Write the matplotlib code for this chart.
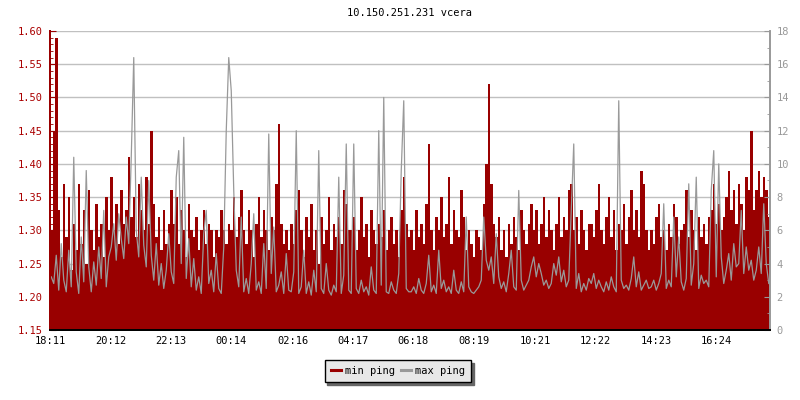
import numpy as np
import matplotlib
matplotlib.use('Agg')
import matplotlib.pyplot as plt
from matplotlib.ticker import MultipleLocator

plt.rcParams['font.family'] = ['DejaVu Sans Mono']

title = '10.150.251.231 vcera'
tick_minutes = [0, 121, 242, 363, 485, 606, 727, 848, 970, 1091, 1212, 1333]
tick_labels = ['18:11', '20:12', '22:13', '00:14', '02:16', '04:17',
               '06:18', '08:19', '10:21', '12:22', '14:23', '16:24']
step_min = 5  # one sample every 5 minutes

# min ping (left axis, ms), one row = 2 hours
min_ping = [
    1.30, 1.45, 1.59, 1.33, 1.26, 1.37, 1.29, 1.35, 1.24, 1.31, 1.27, 1.37, 1.28, 1.33, 1.25, 1.36, 1.30, 1.27, 1.34, 1.29, 1.31, 1.26, 1.35, 1.30,
    1.38, 1.30, 1.34, 1.28, 1.36, 1.31, 1.33, 1.41, 1.32, 1.35, 1.29, 1.37, 1.33, 1.30, 1.38, 1.31, 1.45, 1.34, 1.29, 1.32, 1.27, 1.33, 1.28, 1.31,
    1.36, 1.31, 1.35, 1.28, 1.33, 1.30, 1.26, 1.34, 1.30, 1.29, 1.32, 1.27, 1.30, 1.33, 1.28, 1.31, 1.30, 1.26, 1.30, 1.29, 1.33, 1.30, 1.28, 1.31,
    1.30, 1.35, 1.29, 1.32, 1.36, 1.30, 1.28, 1.33, 1.30, 1.26, 1.31, 1.35, 1.29, 1.33, 1.30, 1.27, 1.32, 1.30, 1.37, 1.46, 1.31, 1.28, 1.30, 1.27,
    1.31, 1.28, 1.33, 1.36, 1.30, 1.26, 1.32, 1.29, 1.34, 1.27, 1.30, 1.25, 1.32, 1.28, 1.30, 1.35, 1.27, 1.31, 1.29, 1.32, 1.28, 1.36, 1.34, 1.30,
    1.30, 1.32, 1.27, 1.30, 1.35, 1.29, 1.31, 1.26, 1.33, 1.30, 1.28, 1.31, 1.29, 1.33, 1.27, 1.30, 1.32, 1.28, 1.30, 1.26, 1.33, 1.38, 1.31, 1.29,
    1.30, 1.27, 1.33, 1.29, 1.31, 1.28, 1.34, 1.43, 1.30, 1.27, 1.32, 1.30, 1.35, 1.29, 1.31, 1.38, 1.28, 1.33, 1.30, 1.29, 1.36, 1.32, 1.27, 1.30,
    1.28, 1.26, 1.30, 1.29, 1.27, 1.34, 1.40, 1.52, 1.37, 1.31, 1.29, 1.32, 1.27, 1.30, 1.26, 1.31, 1.28, 1.32, 1.29, 1.27, 1.33, 1.30, 1.28, 1.31,
    1.34, 1.30, 1.33, 1.28, 1.31, 1.35, 1.29, 1.33, 1.30, 1.27, 1.31, 1.35, 1.29, 1.32, 1.30, 1.36, 1.37, 1.30, 1.32, 1.28, 1.33, 1.30, 1.27, 1.31,
    1.31, 1.29, 1.33, 1.37, 1.30, 1.28, 1.32, 1.35, 1.29, 1.33, 1.27, 1.31, 1.30, 1.34, 1.28, 1.32, 1.36, 1.30, 1.33, 1.29, 1.39, 1.37, 1.30, 1.27,
    1.30, 1.28, 1.32, 1.34, 1.29, 1.30, 1.27, 1.31, 1.29, 1.34, 1.32, 1.28, 1.30, 1.31, 1.36, 1.29, 1.33, 1.30, 1.27, 1.32, 1.29, 1.31, 1.28, 1.32,
    1.33, 1.37, 1.31, 1.34, 1.30, 1.32, 1.35, 1.39, 1.33, 1.36, 1.31, 1.37, 1.34, 1.30, 1.38, 1.36, 1.45, 1.33, 1.36, 1.39, 1.35, 1.38, 1.36, 1.32,
]

# max ping (right axis, ms)
max_ping = [
    3.2, 2.8, 4.5, 2.4, 5.2, 3.0, 2.3, 4.8, 2.6, 10.4, 3.5, 2.2, 5.6, 2.9, 9.6, 3.8, 2.3, 4.1, 2.7, 5.0, 3.1, 7.2, 2.6, 4.4,
    5.0, 6.4, 4.2, 7.0, 5.5, 4.3, 6.8, 5.2, 10.4, 16.4, 6.0, 4.4, 9.2, 5.1, 3.8, 9.0, 4.5, 3.0, 5.2, 2.7, 4.0, 2.5, 3.6, 5.8,
    3.5, 2.8, 9.2, 10.8, 4.0, 11.6, 3.1, 5.5, 2.6, 4.3, 2.4, 3.2, 2.2, 5.8, 7.2, 2.8, 3.6, 2.3, 4.6, 2.5, 2.2, 5.0, 12.0, 16.4,
    14.4, 8.4, 3.6, 2.6, 6.8, 2.3, 3.1, 2.2, 4.0, 7.0, 2.4, 2.9, 2.2, 5.2, 2.5, 11.8, 3.4, 6.2, 2.3, 2.7, 3.5, 2.2, 4.6, 2.4,
    2.3, 3.5, 12.0, 2.2, 2.6, 4.8, 2.2, 2.9, 2.1, 3.6, 2.3, 10.8, 2.5, 2.2, 4.0, 2.4, 2.1, 2.7, 2.3, 9.2, 2.2, 3.3, 11.2, 2.4,
    2.2, 11.2, 2.5, 2.2, 3.0, 2.3, 2.6, 2.1, 3.8, 2.4, 2.2, 12.0, 2.7, 14.0, 2.3, 2.2, 2.9, 2.4, 2.2, 3.4, 9.6, 13.8, 2.5, 2.3,
    2.3, 2.6, 2.2, 3.1, 2.4, 2.2, 2.8, 4.5, 2.3, 2.7, 2.2, 4.8, 2.5, 3.0, 2.3, 2.6, 2.2, 3.6, 2.4, 2.2, 2.9, 2.3, 6.8, 2.6,
    2.3, 2.2, 2.4, 2.6, 3.0, 6.8, 4.2, 3.6, 4.4, 2.8, 5.8, 3.2, 2.5, 2.9, 2.3, 3.4, 4.8, 2.6, 2.4, 8.4, 3.0, 2.4, 2.7, 3.0,
    3.8, 4.4, 3.2, 4.0, 3.4, 2.7, 3.0, 2.5, 2.8, 4.0, 3.3, 4.4, 2.9, 3.6, 2.6, 3.0, 7.2, 11.2, 2.5, 3.4, 2.3, 2.8, 2.4, 3.1,
    2.8, 3.4, 2.5, 3.0, 2.6, 2.3, 2.9, 2.4, 3.2, 2.6, 2.3, 13.8, 3.0, 2.5, 2.7, 2.4, 3.1, 4.4, 2.6, 3.5, 2.4, 2.7, 3.0, 2.5,
    2.6, 3.0, 2.4, 2.8, 3.4, 7.6, 2.5, 3.0, 2.6, 6.8, 3.2, 5.6, 2.9, 2.4, 3.1, 8.8, 2.7, 4.0, 9.2, 2.5, 3.3, 2.8, 3.0, 2.6,
    8.4, 10.8, 3.2, 10.0, 4.4, 2.8, 3.6, 4.6, 3.0, 5.2, 3.8, 4.0, 7.2, 3.4, 5.0, 3.6, 4.2, 3.0, 3.6, 5.0, 3.4, 7.6, 4.0, 2.8,
]

RED = '#990000'
GRAY = '#999999'
n = len(min_ping)
edges = np.arange(n + 1) * step_min
mids = edges[:-1] + step_min / 2

fig = plt.figure(figsize=(8, 4), dpi=100)
ax = fig.add_axes([50 / 800, 70 / 400, 720 / 800, 299 / 400])
ax2 = ax.twinx()

ax.stairs(min_ping, edges, baseline=1.15, fill=True, color=RED, linewidth=0)
ax2.plot(mids, max_ping, color=GRAY, linewidth=0.9)

ax.set_xlim(0, n * step_min)
ax.set_ylim(1.15, 1.60)
ax2.set_ylim(0, 18)

ax.set_axisbelow(True)
ax.yaxis.set_major_locator(MultipleLocator(0.05))
ax.yaxis.set_minor_locator(MultipleLocator(0.01))
ax.grid(axis='y', color='#c0c0c0', linewidth=1.0)
ax.set_yticks(np.arange(1.15, 1.601, 0.05))
ax.set_yticklabels(['%.2f' % v for v in np.arange(1.15, 1.601, 0.05)])

ax2.yaxis.set_major_locator(MultipleLocator(2))
ax2.yaxis.set_minor_locator(MultipleLocator(1))

ax.set_xticks(tick_minutes)
ax.set_xticklabels(tick_labels)

ax.tick_params(axis='y', which='both', direction='in', colors=RED, labelcolor='#aa0000',
               labelsize=7.5, pad=5.5)
ax.tick_params(axis='y', which='major', length=4)
ax.tick_params(axis='y', which='minor', length=2.2)
ax.tick_params(axis='x', direction='in', length=3.6, colors='black', labelsize=7.5, pad=4)
ax2.tick_params(axis='y', which='both', direction='in', colors=GRAY, labelsize=7.5, pad=4.5)
ax2.tick_params(axis='y', which='major', length=4)
ax2.tick_params(axis='y', which='minor', length=2.2)

for a in (ax, ax2):
    a.spines['top'].set_visible(False)
    a.spines['left'].set_color(RED)
    a.spines['right'].set_color(GRAY)
    a.spines['bottom'].set_color('black')
    a.spines['left'].set_linewidth(1.4)
    a.spines['bottom'].set_linewidth(1.4)
    a.spines['right'].set_linewidth(1.2)

fig.text(0.5125, 1 - 13 / 400, title, ha='center', va='center', fontsize=7.5)

h1 = plt.Line2D([], [], color=RED, linewidth=2.2)
h2 = plt.Line2D([], [], color=GRAY, linewidth=2.2)
fig.legend([h1, h2], ['min ping', 'max ping'], loc='center',
           bbox_to_anchor=(398 / 800, 1 - 371 / 400), ncol=2, fontsize=7.5,
           frameon=True, fancybox=False, edgecolor='black', facecolor='#e8e8e8',
           framealpha=1, handlelength=1.0, handletextpad=0.4, columnspacing=0.5,
           borderpad=0.6,
           shadow={'facecolor': '#666666', 'edgecolor': '#666666', 'alpha': 1})

fig.savefig('out.png', dpi=100)
